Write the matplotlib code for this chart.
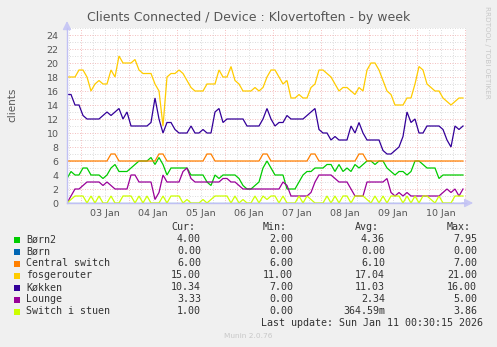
import matplotlib
matplotlib.use("Agg")
import matplotlib.pyplot as plt
import matplotlib.dates as mdates
from matplotlib.ticker import MultipleLocator, FuncFormatter
import pandas as pd
import numpy as np

# ---------------- data ----------------
start_time = "2026-01-02 17:09"
step = "2h"
n_points = 100

series_names = ["Børn2", "Børn", "Central switch", "fosgerouter", "Køkken", "Lounge", "Switch i stuen"]
series_colors = ["#00cc00", "#0066b3", "#ff8000", "#ffcc00", "#330099", "#990099", "#ccff00"]

born2 = [3.5, 4.5, 4, 4, 5, 5, 4, 4, 4, 3.5, 4, 5, 5.5, 4.5, 4.5, 4.5, 5, 5.5, 6, 6,
         6, 6.5, 5.5, 6.5, 5.5, 4, 5, 5, 5, 5, 5, 4, 4, 4, 4, 3, 2.5, 4, 3.5, 4,
         4, 4, 4, 3.5, 2.5, 2, 2, 2.5, 3, 5, 6, 5, 4, 4, 4, 2, 2, 2, 3, 4,
         4.5, 4.5, 5, 5, 5, 5.5, 5.5, 4.5, 5.5, 4.5, 5, 4.5, 5.5, 5, 5.5, 6, 6, 5.5, 6, 6,
         5, 4.5, 4, 4.5, 4.5, 4, 4.5, 6, 6, 5.5, 5, 5, 5, 3.5, 4, 4, 4, 4, 4, 4]
born = [0] * 100
central_switch = [6, 6, 6, 6, 6, 6, 6, 6, 6, 6, 6, 7, 7, 6, 6, 6, 6, 6, 6, 6,
                  6, 6, 6, 7, 7, 6, 6, 6, 6, 6, 6, 6, 6, 6, 6, 7, 7, 6, 6, 6,
                  6, 6, 6, 6, 6, 6, 6, 6, 6, 7, 7, 6, 6, 6, 6, 6, 6, 6, 6, 6,
                  6, 7, 7, 6, 6, 6, 6, 6, 6, 6, 6, 6, 6, 7, 7, 6, 6, 6, 6, 6,
                  6, 6, 6, 6, 6, 6, 6, 6, 6, 6, 6, 6, 6, 6, 6, 6, 6, 6, 6, 6]
fosgerouter = [18, 18, 18, 19, 19, 18, 16, 17, 17.5, 17, 17, 19, 18, 21, 20, 20, 20, 20.5, 19, 18.5,
               18.5, 18.5, 17, 16, 11, 18, 18.5, 18.5, 19, 18.5, 17.5, 16.5, 16, 16, 16, 17, 17, 17, 19, 18,
               18, 19.5, 17.5, 17, 16, 16, 16, 16.5, 16, 16.5, 18, 19, 19, 18, 17, 17.5, 15, 15, 15.5, 15,
               15, 16.5, 17, 19, 19, 18.5, 18, 17, 16, 16.5, 16.5, 16, 15.5, 16.5, 16, 19, 20, 20, 19, 17.5,
               16, 15.5, 14, 14, 14, 15, 15, 17, 19.5, 19, 17, 16.5, 16, 16, 15, 14.5, 14, 14.5, 15, 15]
kokken = [15.5, 15.5, 14, 14, 12.5, 12, 12, 12, 12, 12.5, 13, 12.5, 13, 13.5, 12, 13, 11, 11, 11, 11,
          11, 11.5, 15, 12, 10, 11.5, 11.5, 10.5, 10, 10, 10, 11, 10, 10, 10.5, 10, 10, 13, 13.5, 11.5,
          12, 12, 12, 12, 12, 11, 11, 11, 11, 12, 13.5, 12, 11, 11.5, 11.5, 12.5, 12, 12, 12, 12,
          12.5, 13, 13.5, 10.5, 10, 10, 9, 9.5, 9, 9, 9, 11, 10, 11.5, 10, 9, 9, 9, 9, 7.5,
          7, 7, 7.5, 8, 9.5, 13, 11.5, 12, 10, 10, 11, 11, 11, 11, 10.5, 9, 8, 11, 10.5, 11]
lounge = [0, 1, 2, 2, 2.5, 3, 3, 3, 3, 2.5, 3, 2.5, 2, 2, 2, 2, 4, 4, 3, 3,
          3, 3, 0.5, 1.5, 4, 3, 3, 3, 3, 4.5, 5, 3.5, 3, 3, 3, 3, 3, 3, 3, 3.5,
          3.5, 3, 3, 2.5, 2, 2, 2, 2, 2, 2, 2, 2, 2, 2, 3, 2.5, 1, 1, 1, 1,
          1, 1.5, 3, 4, 4, 4, 4, 3.5, 3, 3, 3, 2, 1, 1, 1, 3, 3, 3, 3, 3,
          3.5, 1.5, 1, 1.5, 1, 1.5, 1, 1, 1, 1, 1, 1, 1, 1, 1.5, 2, 1.5, 2, 1, 2]
switch_stuen = [0, 0.5, 1, 1, 1, 0, 1, 0, 1, 0, 0, 1, 0, 0, 1, 1, 1, 0, 1, 0,
                1, 0, 0, 0, 1, 0, 1, 1, 1, 0, 0.5, 0, 0, 0, 0.5, 0, 0.5, 1, 1, 1,
                1, 0, 1, 0, 0.5, 0, 0, 1, 0, 1, 0.5, 1, 1, 0, 1, 0, 0, 0, 1, 0,
                1, 0.5, 0, 0, 0, 1, 0, 1, 0, 1, 1, 0, 1, 1, 1, 0.5, 0, 1, 0, 1,
                0, 1, 1, 1, 0, 1, 0, 1, 0, 1, 1, 0.5, 0, 1, 0, 0, 0, 1, 1, 1]

cur_vals = ["4.00", "0.00", "6.00", "15.00", "10.34", "3.33", "1.00"]
min_vals = ["2.00", "0.00", "6.00", "11.00", "7.00", "0.00", "0.00"]
avg_vals = ["4.36", "0.00", "6.10", "17.04", "11.03", "2.34", "364.59m"]
max_vals = ["7.95", "0.00", "7.00", "21.00", "16.00", "5.00", "3.86"]

title = "Clients Connected / Device : Klovertoften - by week"
ylabel = "clients"
last_update = "Last update: Sun Jan 11 00:30:15 2026"
footer = "Munin 2.0.76"
side_text = "RRDTOOL / TOBI OETIKER"

# ---------------- figure ----------------
W, H = 497, 347
fig = plt.figure(figsize=(W / 100, H / 100), dpi=100, facecolor="#f0f0f0")
L, R, B, T = 67, 466, 203, 28
ax = fig.add_axes([L / W, 1 - B / H, (R - L) / W, (B - T) / H])
ax.set_facecolor("white")

times = pd.date_range(start_time, periods=n_points, freq=step)
t0 = pd.Timestamp(start_time)
t_end = t0 + pd.Timedelta(hours=199.5)

all_series = [born2, born, central_switch, fosgerouter, kokken, lounge, switch_stuen]
for vals, col in zip(all_series, series_colors):
    ax.plot(times, vals, color=col, lw=0.9, solid_joinstyle="miter", zorder=3)

ax.set_xlim(t0, t_end)
ax.set_ylim(0, 25)

# grid
ax.set_axisbelow(True)
ax.xaxis.set_major_locator(mdates.HourLocator(byhour=[0]))
ax.xaxis.set_major_formatter(FuncFormatter(lambda v, p: ""))
ax.xaxis.set_minor_locator(mdates.HourLocator(byhour=[6, 12, 18]))


def minor_fmt(v, p):
    d = mdates.num2date(v)
    return d.strftime("%d %b") if d.hour == 12 else ""


ax.xaxis.set_minor_formatter(FuncFormatter(minor_fmt))
ax.yaxis.set_major_locator(MultipleLocator(2))
ax.yaxis.set_minor_locator(MultipleLocator(1))
ax.grid(which="minor", color="#d0d0d0", lw=0.6, ls=(0, (1, 2)))
ax.grid(which="major", color="#f0a8a8", lw=0.6, ls=(0, (1, 2)))

ax.tick_params(which="both", length=0, colors="#555555", labelsize=6.8)
ax.tick_params(axis="y", pad=6)
ax.tick_params(axis="x", which="minor", pad=4)

for s in ["top", "right"]:
    ax.spines[s].set_visible(False)
for s in ["left", "bottom"]:
    ax.spines[s].set_color("#c0c0f4")
    ax.spines[s].set_linewidth(1.0)
    ax.spines[s].set_zorder(5)

# axis arrows
ax.annotate("", xy=(0, 1.04), xytext=(0, 0.99), xycoords="axes fraction",
            arrowprops=dict(arrowstyle="-|>,head_length=0.5,head_width=0.25",
                            color="#c8c8f4", lw=1.0, shrinkA=0, shrinkB=0))
ax.annotate("", xy=(1.018, 0), xytext=(0.99, 0), xycoords="axes fraction",
            arrowprops=dict(arrowstyle="-|>,head_length=0.5,head_width=0.25",
                            color="#c8c8f4", lw=1.0, shrinkA=0, shrinkB=0))

# texts
fig.text(249 / W, 1 - 18 / H, title, ha="center", va="center", fontsize=9.0, color="#555555")
fig.text(12 / W, 1 - 105 / H, ylabel, ha="center", va="center", rotation=90, fontsize=7.5, color="#555555")
fig.text(487 / W, 1 - 52 / H, side_text, ha="center", va="center", rotation=270, fontsize=5.2, color="#c8c8c8")

# legend
mono = "DejaVu Sans Mono"
lfs = 7.2
tc = "#333333"
col_right = [201, 293, 385, 477]
heads = ["Cur:", "Min:", "Avg:", "Max:"]
for x, h in zip(col_right, heads):
    fig.text((x - 6) / W, 1 - 227 / H, h, ha="right", va="center", family=mono, fontsize=lfs, color=tc)

row_y0, row_dy = 239.5, 12.0
for i, name in enumerate(series_names):
    y = row_y0 + i * row_dy
    fig.patches.append(plt.Rectangle((14 / W, 1 - (y + 3) / H), 6 / W, 6 / H,
                                     transform=fig.transFigure, color=series_colors[i], lw=0))
    fig.text(26 / W, 1 - y / H, name, ha="left", va="center", family=mono, fontsize=lfs, color=tc)
    for x, vals in zip(col_right, [cur_vals, min_vals, avg_vals, max_vals]):
        fig.text(x / W, 1 - y / H, vals[i], ha="right", va="center", family=mono, fontsize=lfs, color=tc)

fig.text(483 / W, 1 - 323.5 / H, last_update, ha="right", va="center", family=mono, fontsize=lfs, color=tc)
fig.text(248 / W, 1 - 336 / H, footer, ha="center", va="center", fontsize=5.3, color="#c8c8c8")

fig.savefig("out.png", dpi=100, facecolor=fig.get_facecolor())
